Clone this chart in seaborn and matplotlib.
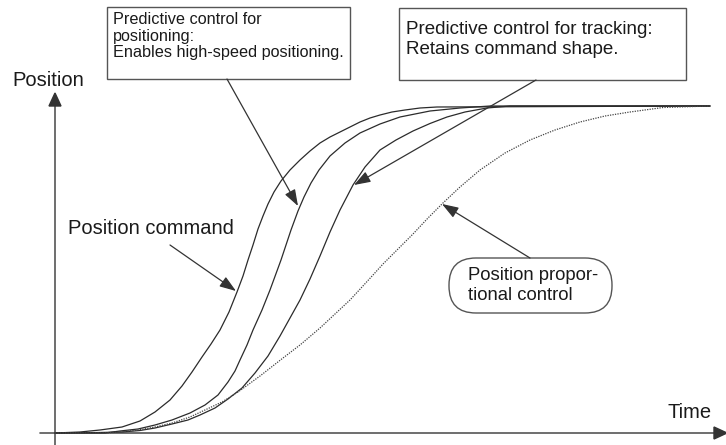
import matplotlib
matplotlib.use("Agg")
import matplotlib.pyplot as plt
import matplotlib.transforms as mtransforms
from matplotlib.patches import Rectangle, FancyBboxPatch, Polygon
import pandas as pd
import seaborn as sns

# ---- data (arbitrary units: time 0..655, position 0..327 = final) ----
cmd_t = [0, 25, 45, 67, 85, 100, 115, 127, 137, 147, 156, 165, 174, 182, 188, 193, 198, 203,
         208, 213, 219, 226, 235, 245, 255, 265, 275, 285, 295, 305, 315, 325, 337, 350,
         365, 382, 655]
cmd_p = [0, 1, 3, 6, 12, 21, 33, 47, 61, 76, 89, 103, 121, 141, 157, 173, 188, 204,
         217, 229, 241, 252, 263, 273, 282, 290, 296, 301, 306, 311, 315, 318, 321, 323,
         325, 326, 327]

pos_t = [0, 50, 65, 83, 100, 117, 135, 150, 163, 173, 180, 185, 192, 198, 207, 215, 226,
         236, 243, 249, 256, 264, 275, 290, 305, 325, 345, 360, 375, 405, 435, 655]
pos_p = [0, 0, 2, 4, 8, 13, 20, 28, 38, 51, 62, 73, 88, 103, 123, 143, 173,
         203, 222, 236, 250, 263, 277, 290, 300, 309, 316, 319, 322, 325, 327, 327]

trk_t = [0, 45, 67, 85, 100, 117, 133, 145, 160, 173, 187, 200, 213, 225, 235, 245, 255,
         265, 275, 285, 298, 310, 325, 341, 358, 375, 392, 410, 432, 455, 655]
trk_p = [0, 0.5, 1, 2.5, 5, 9, 13, 18, 25, 34, 45, 60, 77, 97, 115, 133, 154,
         177, 201, 223, 248, 266, 283, 293, 302, 309.5, 316, 321, 325, 327, 327]

prop_t = [0, 50, 65, 83, 100, 117, 135, 150, 167, 183, 205, 228, 245, 265, 280, 295, 307,
          318, 328, 345, 358, 373, 388, 405, 425, 450, 475, 500, 525, 550, 575, 608, 655]
prop_p = [0, 0, 1, 3, 6, 10, 16, 23, 31, 41, 57, 75, 88, 105, 119, 133, 146,
          158, 169, 186, 199, 215, 230, 246, 263, 280, 293, 303, 311, 317, 321, 325.5, 327]

x_label = "Time"
y_label = "Position"
lbl_command = "Position command"
lbl_positioning = ["Predictive control for", "positioning:", "Enables high-speed positioning."]
lbl_tracking = ["Predictive control for tracking:", "Retains command shape."]
lbl_prop = ["Position propor-", "tional control"]

sns.set_theme(style="white")
plt.rcParams["font.family"] = ["Liberation Sans", "DejaVu Sans"]

W, H = 726, 445
fig = plt.figure(figsize=(W / 100, H / 100), dpi=100)
ax = fig.add_axes([0, 0, 1, 1])

# pixel transform (origin top-left, y down) for annotations
T = mtransforms.Affine2D().scale(1 / 100, -1 / 100).translate(0, H / 100) + fig.dpi_scale_trans

line_col = "#2b2b2b"
for t, p in [(cmd_t, cmd_p), (pos_t, pos_p), (trk_t, trk_p)]:
    df = pd.DataFrame({"t": t, "p": p})
    sns.lineplot(data=df, x="t", y="p", ax=ax, color=line_col, lw=0.9,
                 estimator=None, sort=False, zorder=3)
dfp = pd.DataFrame({"t": prop_t, "p": prop_p})
sns.lineplot(data=dfp, x="t", y="p", ax=ax, color="#444444", lw=0.9,
             linestyle=(0, (1, 1)), estimator=None, sort=False, zorder=3)
ax.set_xlim(-55, 671)
ax.set_ylim(-12, 433)
ax.axis("off")

axis_col = "#555555"
ax.add_line(plt.Line2D([55, 55], [445, 100], transform=T, color=axis_col, lw=1.2, zorder=2))
ax.add_patch(Polygon([[55, 93], [49, 106], [61, 106]], closed=True, transform=T,
                     color="#333333", zorder=4))
ax.add_line(plt.Line2D([40, 718], [433, 433], transform=T, color=axis_col, lw=1.2, zorder=2))
ax.add_patch(Polygon([[727, 433], [714, 427], [714, 439]], closed=True, transform=T,
                     color="#333333", zorder=4))

txt_col = "#1a1a1a"
ax.text(48, 81, y_label, transform=T, ha="center", va="center", fontsize=14.5, color=txt_col)
ax.text(68, 229, lbl_command, transform=T, ha="left", va="center", fontsize=14.5, color=txt_col)
ax.text(668, 413, x_label, transform=T, ha="left", va="center", fontsize=14.5, color=txt_col)

box_col = "#555555"
ax.add_patch(Rectangle((107, 7), 243, 72, transform=T, fill=True, fc="white",
                       ec=box_col, lw=1.0, zorder=5))
for i, s in enumerate(lbl_positioning):
    ax.text(113, 20 + 16.5 * i, s, transform=T, ha="left", va="center", fontsize=11.7,
            color=txt_col, zorder=6)

ax.add_patch(Rectangle((399, 8), 287, 72, transform=T, fill=True, fc="white",
                       ec=box_col, lw=1.0, zorder=5))
for i, s in enumerate(lbl_tracking):
    ax.text(406, 30 + 19 * i, s, transform=T, ha="left", va="center", fontsize=13.5,
            color=txt_col, zorder=6)

ax.add_patch(FancyBboxPatch((449, 258), 163, 55, boxstyle="round,pad=0,rounding_size=27",
                            transform=T, fc="white", ec=box_col, lw=1.0, zorder=5))
for i, s in enumerate(lbl_prop):
    ax.text(468, 275 + 20 * i, s, transform=T, ha="left", va="center", fontsize=13.3,
            color=txt_col, zorder=6)

arrow_kw = dict(arrowstyle="-|>,head_length=1.0,head_width=0.35", color="#333333",
                lw=0.9, shrinkA=0, shrinkB=0, mutation_scale=10)
for start, tip in [((227, 79), (298, 206)),
                   ((170, 245), (236, 291)),
                   ((536, 80), (354, 185)),
                   ((530, 258), (442, 204))]:
    ax.annotate("", xy=tip, xycoords=T, xytext=start, textcoords=T,
                arrowprops=arrow_kw, zorder=7)

fig.savefig("out.png", dpi=100)
